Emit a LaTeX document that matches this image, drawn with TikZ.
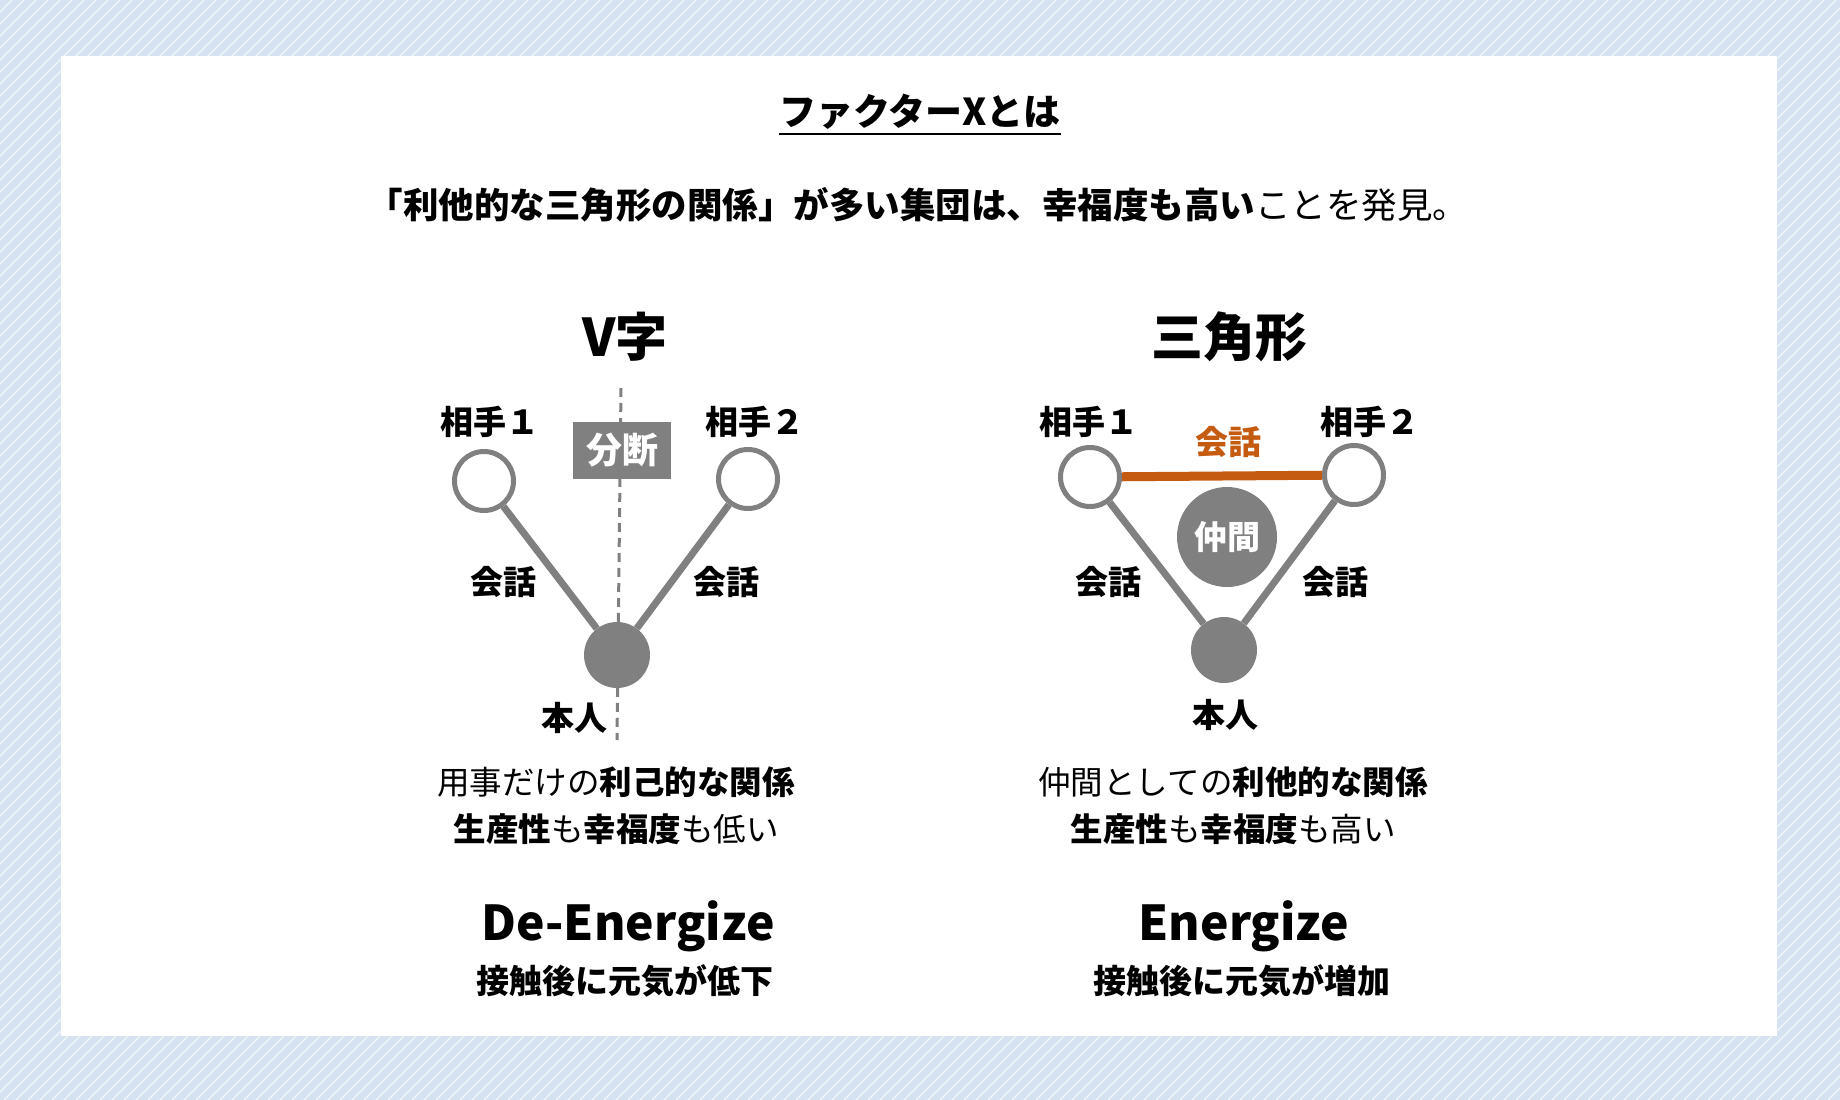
\documentclass[tikz,border=0pt]{standalone}
\usepackage{fontspec}
\setmainfont{Noto Sans CJK JP}
\usetikzlibrary{positioning,calc}
\definecolor{bgblue}{RGB}{212,226,241}
\definecolor{nodegray}{RGB}{128,128,128}
\definecolor{talkorange}{RGB}{197,90,17}
\newcommand{\pxfont}[1]{\fontsize{#1}{#1}\selectfont}
\tikzset{
	partner/.style = {
		draw=nodegray,
		fill=white,
		circle,
		line width=5pt,
		minimum size=59pt,
		inner sep=0pt
	},
	self/.style = {
		fill=nodegray,
		circle,
		minimum size=66pt,
		inner sep=0pt
	},
	link/.style = {
		draw=nodegray,
		line width=7pt
	},
	talk/.style = {
		draw=talkorange,
		line width=9pt
	},
	tag/.style = {
		font=\pxfont{33}\bfseries,
		inner sep=0pt
	},
	heading/.style = {
		font=\pxfont{52}\bfseries,
		inner sep=0pt
	},
	note/.style = {
		font=\pxfont{32.5},
		inner sep=0pt,
		align=center
	}
}

\begin{document}
\begin{tikzpicture}[x=1pt, y=-1pt]
		
		\useasboundingbox (0,0) rectangle (1840,1100);
		
		% --- Fondo rayado y panel blanco ---
		\begin{scope}
			\clip (0,0) rectangle (1840,1100);
			\fill[bgblue] (0,0) rectangle (1840,1100);
			\foreach \k in {0,12,...,2950}
			\draw[white, line width=1.2pt, opacity=0.7] (\k,0) -- (\k-1100,1100);
		\end{scope}
		\fill[white] (61,56) rectangle (1777,1036);
		
		% --- Titulo ---
		\node[font=\pxfont{37}\bfseries, inner sep=0pt] (title) at (920,112) {ファクターXとは};
		\draw[line width=2.5pt] ([yshift=-4pt]title.south west) -- ([yshift=-4pt]title.south east);
		
		\node[font=\pxfont{35.5}, inner sep=0pt] (lead) at (918,205)
		{\textbf{「利他的な三角形の関係」が多い集団は、幸福度も高い}ことを発見。};
		
		% --- V字 ---
		\node[heading] (vhead) at (625,337) {V字};
		
		\coordinate (cuttop) at (621,388);
		\coordinate (cutbot) at (617,740);
		\draw[nodegray, line width=3pt, dash pattern=on 9pt off 6pt] (cuttop) -- (cutbot);
		
		\node[fill=nodegray, minimum width=98pt, minimum height=57pt, text=white,
		font=\pxfont{36}\bfseries] (split) at (622,450) {分断};
		
		\node[partner] (a1) at (484,481) {};
		\node[partner] (a2) at (748,479) {};
		\node[self] (me) at (617,655) {};
		
		\draw[link] (a1) -- (me);
		\draw[link] (a2) -- (me);
		
		\node[tag] (a1name) at (490,422) {相手１};
		\node[tag] (a2name) at (755,422) {相手２};
		\node[tag] (a1talk) at (503,582) {会話};
		\node[tag] (a2talk) at (726,582) {会話};
		\node[tag] (mename) at (574,718) {本人};
		
		% --- 三角形 ---
		\node[heading] (trihead) at (1229,337) {三角形};
		
		\node[partner] (b1) at (1090,477) {};
		\node[partner] (b2) at (1354,475) {};
		\node[self] (me2) at (1224,650) {};
		\node[fill=nodegray, circle, minimum size=100pt, inner sep=0pt, text=white,
		font=\pxfont{33}\bfseries] (mate) at (1227,537) {仲間};
		
		\draw[talk] (b1) -- (b2);
		\draw[link] (b1) -- (me2);
		\draw[link] (b2) -- (me2);
		
		\node[tag] (b1name) at (1089,422) {相手１};
		\node[tag] (b2name) at (1370,422) {相手２};
		\node[tag, text=talkorange] (b12talk) at (1228,442) {会話};
		\node[tag] (b1talk) at (1108,582) {会話};
		\node[tag] (b2talk) at (1335,582) {会話};
		\node[tag] (me2name) at (1225,715) {本人};
		
		% --- Descripciones ---
		\node[note] (vnote) at (616,782) {用事だけの\textbf{利己的な関係}};
		\node[note, below=16pt of vnote] (vnote2) {\textbf{生産性}も\textbf{幸福度}も低い};
		\node[font=\pxfont{48}\bfseries, inner sep=0pt] (venergy) at (628,926) {De-Energize};
		\node[font=\pxfont{33}\bfseries, inner sep=0pt] (veffect) at (625,981) {接触後に元気が低下};
		
		\node[note] (tnote) at (1233,782) {仲間としての\textbf{利他的な関係}};
		\node[note, below=16pt of tnote] (tnote2) {\textbf{生産性}も\textbf{幸福度}も高い};
		\node[font=\pxfont{48}\bfseries, inner sep=0pt] (tenergy) at (1244,926) {Energize};
		\node[font=\pxfont{33}\bfseries, inner sep=0pt] (teffect) at (1242,981) {接触後に元気が増加};
		
\end{tikzpicture}
\end{document}
